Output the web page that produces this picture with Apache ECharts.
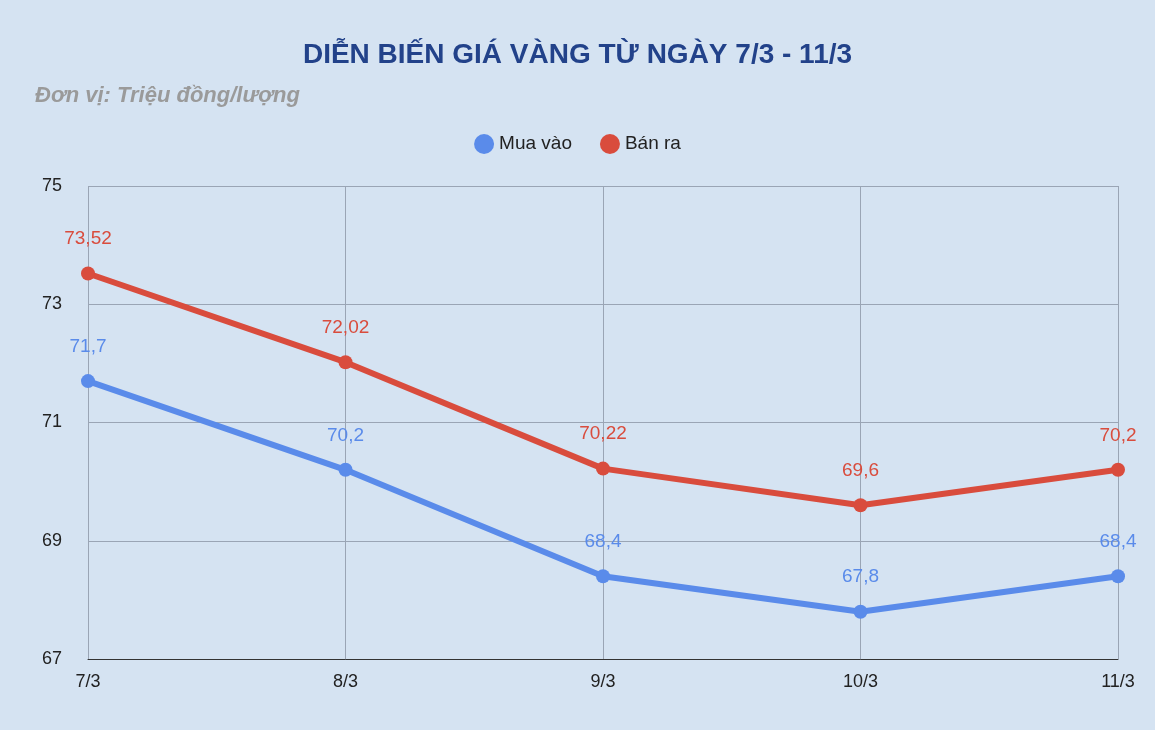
<!DOCTYPE html>
<html><head><meta charset="utf-8">
<script src="https://cdn.jsdelivr.net/npm/echarts@6/dist/echarts.min.js"></script>
<style>html,body{margin:0;padding:0;background:#d5e3f2}#c{width:1155px;height:730px}</style>
</head><body><div id="c"></div>
<script>
const categories = ['7/3','8/3','9/3','10/3','11/3'];
const muaVao = [71.7, 70.2, 68.4, 67.8, 68.4];
const banRa = [73.52, 72.02, 70.22, 69.6, 70.2];
const fmt = v => String(v.value).replace('.', ',');
const chart = echarts.init(document.getElementById('c'));
chart.setOption({
  backgroundColor: '#d5e3f2',
  title: [
    {text: 'DIỄN BIẾN GIÁ VÀNG TỪ NGÀY 7/3 - 11/3', left: 'center', top: 36,
     textStyle: {fontFamily: 'Liberation Sans', fontSize: 28, fontWeight: 'bold', color: '#22428a'}},
    {text: 'Đơn vị: Triệu đồng/lượng', left: 30, top: 80,
     textStyle: {fontFamily: 'Liberation Sans', fontSize: 22, fontWeight: 'bold', fontStyle: 'italic', color: '#9a9a9a'}}
  ],
  legend: {top: 129, left: 'center', itemGap: 28, icon: 'circle', itemWidth: 20, itemHeight: 20,
    textStyle: {fontFamily: 'Liberation Sans', fontSize: 19, color: '#222'}},
  grid: {left: 88, right: 37, top: 186, bottom: 71},
  xAxis: {type: 'category', data: categories, boundaryGap: false,
    axisLine: {lineStyle: {color: '#333'}}, axisTick: {show: false},
    axisLabel: {fontFamily: 'Liberation Sans', fontSize: 18, color: '#222', margin: 14},
    splitLine: {show: true, lineStyle: {color: '#9aa5b5', width: 1}}},
  yAxis: {type: 'value', min: 67, max: 75, interval: 2,
    axisLine: {show: false}, axisTick: {show: false},
    axisLabel: {fontFamily: 'Liberation Sans', fontSize: 18, color: '#222', margin: 26},
    splitLine: {lineStyle: {color: '#9aa5b5', width: 1}}},
  series: [
    {name: 'Mua vào', type: 'line', data: muaVao, color: '#5a8bea', symbol: 'circle', symbolSize: 14,
     lineStyle: {width: 6}, label: {show: true, position: 'top', distance: 18, formatter: fmt,
       fontFamily: 'Liberation Sans', fontSize: 19, color: '#5a8bea'}},
    {name: 'Bán ra', type: 'line', data: banRa, color: '#d94c3d', symbol: 'circle', symbolSize: 14,
     lineStyle: {width: 6}, label: {show: true, position: 'top', distance: 18, formatter: fmt,
       fontFamily: 'Liberation Sans', fontSize: 19, color: '#d94c3d'}}
  ]
});
</script></body></html>
